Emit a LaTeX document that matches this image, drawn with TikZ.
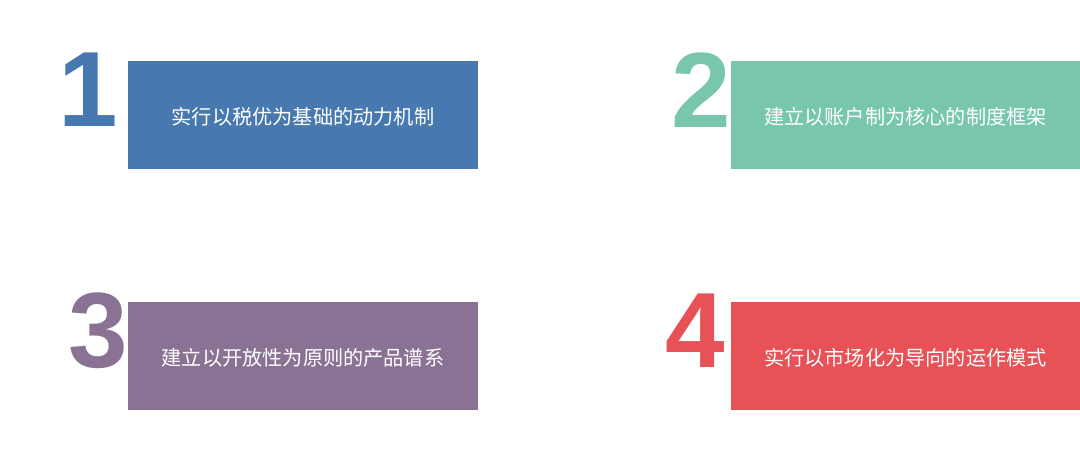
\documentclass[tikz,border=0pt]{standalone}
\usepackage{fontspec}
\newfontfamily\cjk{Noto Sans CJK SC}
\newfontfamily\digitfont{Liberation Sans}
\definecolor{cblue}{HTML}{4779B0}
\definecolor{cgreen}{HTML}{78C7AC}
\definecolor{cpurple}{HTML}{8A7295}
\definecolor{cred}{HTML}{E85155}
\begin{document}
\begin{tikzpicture}[x=1pt,y=1pt,
  panel/.style={minimum width=#1, minimum height=108pt, inner sep=0pt, draw=none},
  label/.style={text=white, font=\cjk\fontsize{20.2}{22}\selectfont, inner sep=0pt},
  digit/.style={anchor=base, inner sep=0pt, font=\digitfont\bfseries\fontsize{107}{107}\selectfont}]
\useasboundingbox (0,0) rectangle (1080,454);
\fill[white] (0,0) rectangle (1080,454);
% panels
\node[panel=350pt, fill=cblue]   (p1) at (303,338.5) {};
\node[panel=349pt, fill=cgreen]  (p2) at (905.5,338.5) {};
\node[panel=350pt, fill=cpurple] (p3) at (303,98) {};
\node[panel=349pt, fill=cred]    (p4) at (905.5,98) {};
% labels
\node[label] (t1) at ([yshift=-1.5pt]p1.center) {实行以税优为基础的动力机制};
\node[label] (t2) at ([yshift=-1.5pt]p2.center) {建立以账户制为核心的制度框架};
\node[label] (t3) at ([yshift=-1.5pt]p3.center) {建立以开放性为原则的产品谱系};
\node[label] (t4) at ([yshift=-1.5pt]p4.center) {实行以市场化为导向的运作模式};
% digits
\node[digit, text=cblue]   (d1) at (88,327) {1};
\node[digit, text=cgreen]  (d2) at (701,326) {2};
\node[digit, text=cpurple] (d3) at (98,86) {3};
\node[digit, text=cred]    (d4) at (695,86) {4};
\end{tikzpicture}
\end{document}
